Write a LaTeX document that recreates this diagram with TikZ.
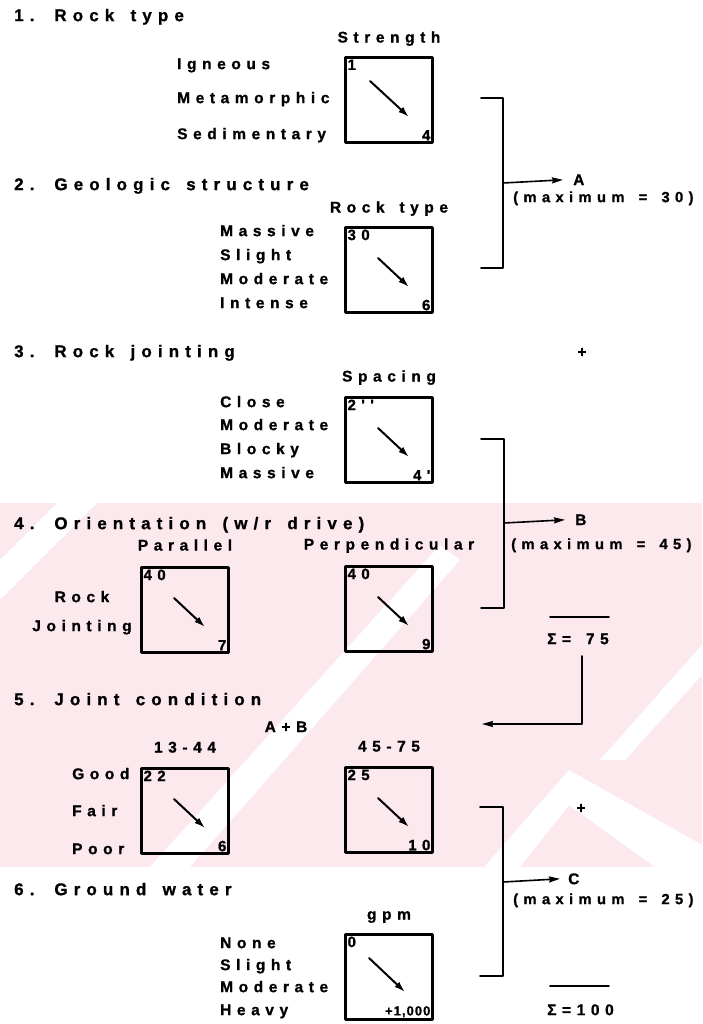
\documentclass[tikz,border=0pt]{standalone}
\usepackage{fontspec}
\newfontfamily\scanfont{Liberation Sans Bold}[LetterSpace=36,WordSpace=1.5,FakeBold=1]
\newfontfamily\tightfont{Liberation Sans Bold}[LetterSpace=8,FakeBold=1]
\usetikzlibrary{arrows.meta,positioning}
\definecolor{wmpink}{RGB}{252,233,237}
\tikzset{
  every picture/.style={line join=round,line cap=round},
  heading/.style={anchor=mid west,inner sep=0pt,
    font=\scanfont\fontsize{17}{19}\selectfont},
  rowlabel/.style={anchor=mid west,inner sep=0pt,
    font=\scanfont\fontsize{15.5}{17}\selectfont},
  maxnote/.style={rowlabel,font=\scanfont\fontsize{14.8}{17}\selectfont},
  colhead/.style={anchor=mid,inner sep=0pt,
    font=\scanfont\fontsize{15.5}{17}\selectfont},
  scorebox/.style={draw,line width=2.2pt,minimum width=87pt,minimum height=85pt,inner sep=0pt},
  topval/.style={anchor=north west,inner sep=3pt,
    font=\scanfont\fontsize{15}{17}\selectfont},
  lowval/.style={anchor=south east,inner sep=3pt,
    font=\scanfont\fontsize{15}{17}\selectfont},
  trend/.style={line width=2pt,-{Latex[length=11pt,width=7pt]}},
  bracket/.style={line width=1.8pt},
  feed/.style={line width=1.6pt,-{Stealth[length=11pt,width=6pt,inset=1pt]}},
}

\begin{document}
\begin{tikzpicture}[x=1pt,y=-1pt]
\useasboundingbox (0,0) rectangle (702,1024);
% faint watermark band of the scan
\fill[wmpink] (0,503) rectangle (702,867);
\fill[white] (0,560) -- (0,600) -- (97,503) -- (57,503) -- cycle;
\fill[white] (150,867) -- (190,867) -- (460,560) -- (440,545) -- cycle;
\fill[white] (484,867) -- (569,770) -- (702,845) -- (702,867) -- (655,867) -- (569,805) -- (520,867) -- cycle;
\fill[white] (600,760) -- (625,760) -- (702,675) -- (702,645) -- cycle;

% headings
\node[heading] (h1) at (14,19) {1. Rock type};
\node[heading] (h2) at (14,188) {2. Geologic structure};
\node[heading] (h3) at (14,355) {3. Rock jointing};
\node[heading] (h4) at (14,527) {4. Orientation (w/r drive)};
\node[heading] (h5) at (14,703) {5. Joint condition};
\node[heading] (h6) at (14,893) {6. Ground water};

% rating boxes
\node[scorebox] (b1) at (389,100) {};
\node[scorebox] (b2) at (389,270) {};
\node[scorebox] (b3) at (389,440) {};
\node[scorebox] (b4) at (185,610) {};
\node[scorebox] (b5) at (389,609) {};
\node[scorebox] (b6) at (185,811) {};
\node[scorebox] (b7) at (389,810) {};
\node[scorebox] (b8) at (389,977) {};

% column heads
\node[colhead] (c1) at ([yshift=16pt]b1.north) {Strength};
\node[colhead] (c2) at ([yshift=16pt]b2.north) {Rock type};
\node[colhead] (c3) at ([yshift=17pt]b3.north) {Spacing};
\node[colhead] (c4) at ([yshift=18pt]b4.north) {Parallel};
\node[colhead] (c5) at ([yshift=18pt]b5.north) {Perpendicular};
\node[colhead] (c6) at ([yshift=17pt]b6.north) {13-44};
\node[colhead] (c7) at ([yshift=17pt]b7.north) {45-75};
\node[colhead] (c8) at ([yshift=16pt]b8.north) {gpm};
\node[colhead] (ab) at (286,730) {A+B};

% values in the corners
\node[topval] at (b1.north west) {1};   \node[lowval] at (b1.south east) {4};
\node[topval] at (b2.north west) {30};  \node[lowval] at (b2.south east) {6};
\node[topval] at (b3.north west) {2''}; \node[lowval] at (b3.south east) {4'};
\node[topval] at (b4.north west) {40};  \node[lowval] at (b4.south east) {7};
\node[topval] at (b5.north west) {40};  \node[lowval] at (b5.south east) {9};
\node[topval] at (b6.north west) {22};  \node[lowval] at (b6.south east) {6};
\node[topval] at (b7.north west) {25};  \node[lowval] at (b7.south east) {10};
\node[topval] at (b8.north west) {0};
\node[lowval,font=\tightfont\fontsize{13}{15}\selectfont] at (b8.south east) {+1,000};

% trend arrows
\draw[trend] ([shift={(-19,-19)}]b1.center) -- ([shift={(20,17)}]b1.center);
\foreach \b in {b2,b3,b4,b5,b6,b7}
  \draw[trend] ([shift={(-11,-12)}]\b.center) -- ([shift={(20,17)}]\b.center);
\draw[trend] ([shift={(-20,-19)}]b8.center) -- ([shift={(16,15)}]b8.center);

% row labels
\node[rowlabel] at (177,67) {Igneous};
\node[rowlabel] at (177,101) {Metamorphic};
\node[rowlabel] at (177,137) {Sedimentary};
\node[rowlabel] at (220,234) {Massive};
\node[rowlabel] at (220,258) {Slight};
\node[rowlabel] at (220,282) {Moderate};
\node[rowlabel] at (220,306) {Intense};
\node[rowlabel] at (220,405) {Close};
\node[rowlabel] at (220,428) {Moderate};
\node[rowlabel] at (220,452) {Blocky};
\node[rowlabel] at (220,476) {Massive};
\node[rowlabel,anchor=mid] at (82,600) {Rock};
\node[rowlabel,anchor=mid] at (82,629) {Jointing};
\node[rowlabel] at (72,777) {Good};
\node[rowlabel] at (72,814) {Fair};
\node[rowlabel] at (72,852) {Poor};
\node[rowlabel] at (220,946) {None};
\node[rowlabel] at (220,968) {Slight};
\node[rowlabel] at (220,990) {Moderate};
\node[rowlabel] at (220,1013) {Heavy};

% brackets and totals
\draw[bracket] (481,98) -| (503,268) -- (481,268);
\coordinate (amid) at (503,183);
\node[rowlabel] (ta) at (573,183) {A};
\node[maxnote] (ma) at (513,200) {(maximum = 30)};
\draw[feed] (amid) -- ([xshift=-10pt]ta.west);
\node[rowlabel,anchor=mid] (p1) at (582,355) {+};

\draw[bracket] (481,439) -| (504,608) -- (481,608);
\coordinate (bmid) at (504,523);
\node[rowlabel] (tb) at (575,523) {B};
\node[maxnote] (mb) at (511,547) {(maximum = 45)};
\draw[feed] (bmid) -- ([xshift=-10pt]tb.west);
\node[rowlabel] (s75) at (547,642) {Σ= 75};

\coordinate (aplusb) at (482,724);
\draw[bracket] (550,617) -- (609,617);
\draw[feed] (582,656) |- (aplusb);
\node[rowlabel,anchor=mid] (p2) at (581,811) {+};

\draw[bracket] (480,807) -| (503,976) -- (480,976);
\coordinate (cmid) at (503,882);
\node[rowlabel] (tc) at (568,882) {C};
\node[maxnote] (mc) at (513,902) {(maximum = 25)};
\draw[feed] (cmid) -- ([xshift=-8pt]tc.west);
\draw[bracket] (550,986) -- (609,986);
\node[rowlabel] (s100) at (547,1013) {Σ=100};
\end{tikzpicture}
\end{document}
